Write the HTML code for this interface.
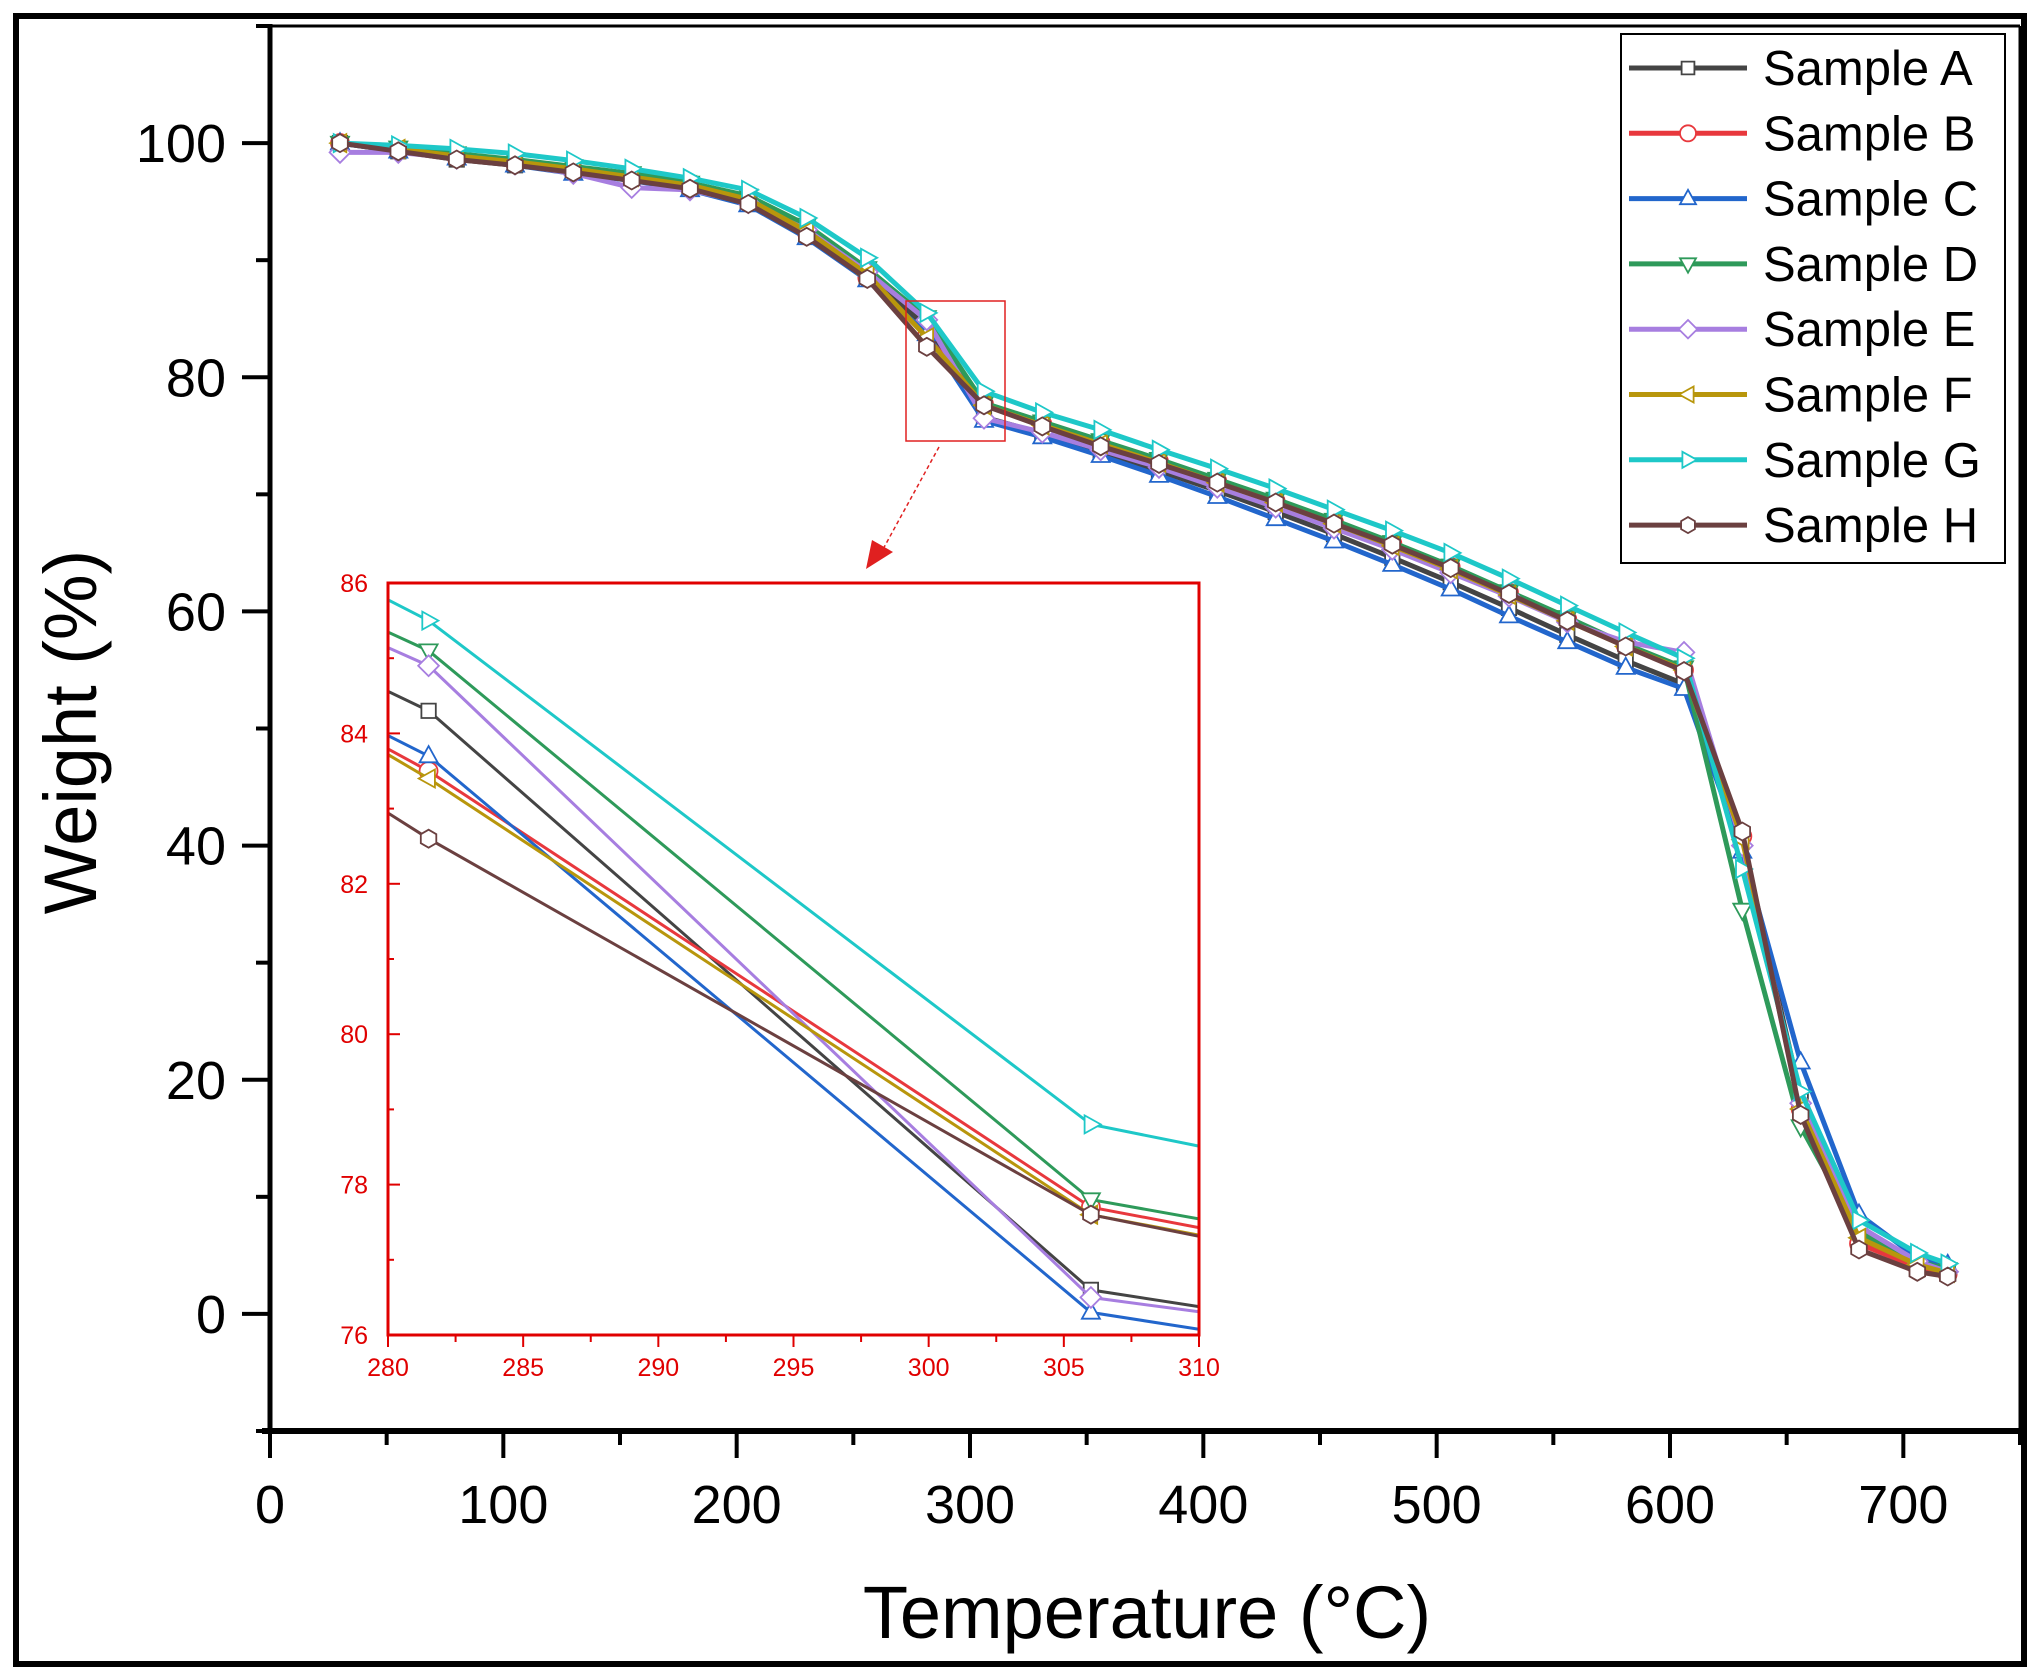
<!DOCTYPE html>
<html><head><meta charset="utf-8"><style>
html,body{margin:0;padding:0;background:#fff;overflow:hidden;width:2040px;height:1676px}
svg{display:block}
text{font-family:"Liberation Sans",Arial,sans-serif}
</style></head><body>
<svg id="chart" width="2040" height="1676" viewBox="0 0 2040 1676" xmlns="http://www.w3.org/2000/svg">
<defs>
<clipPath id="mainClip"><rect x="270" y="26" width="1750" height="1405"/></clipPath>
<clipPath id="insetClip"><rect x="388" y="583" width="811" height="752"/></clipPath>
</defs>
<rect x="16" y="16" width="2008" height="1648" fill="#fff" stroke="#000" stroke-width="6"/>
<g id="main"></g>
<g id="inset"></g>
<g id="legend"></g>
</svg>
<script>
const temps = [30,55,80,105,130,155,180,205,230,256,281.5,306,331,356,381,406,431,456,481,506,531,556,581,606,631,656,681,706,719];
const sampleA = [100,99.3,98.6,98.1,97.5,96.9,96.2,95,92.3,88.7,84.3,76.6,75.2,73.6,72,70.3,68.5,66.6,64.6,62.5,60.3,58,55.8,53.8,40.5,18.5,6.5,4.2,3.5];
const sampleB = [100,99.4,98.8,98.3,97.7,97,96.3,95.1,92.4,88.5,83.5,77.7,76,74.4,72.8,71.1,69.4,67.6,65.8,63.8,61.6,59.3,57.1,55,40.8,17.5,6.0,4.0,3.4];
const sampleC = [100,99.3,98.7,98.1,97.4,96.8,96,94.7,91.9,88.3,83.7,76.3,74.9,73.3,71.6,69.8,67.9,66,64,61.9,59.6,57.4,55.2,53.4,39.5,21.5,8.5,4.8,4.2];
const sampleD = [100,99.6,99.1,98.6,98,97.4,96.6,95.5,93,89.3,85.1,77.8,76.2,74.6,73,71.3,69.6,67.8,65.9,63.9,61.7,59.5,57.2,55.2,34.5,16,7,4.5,3.8];
const sampleE = [99.2,99.2,98.7,98.2,97.4,96.2,96,94.9,92.6,89,84.9,76.5,75.3,73.8,72.3,70.6,68.9,67.1,65.3,63.3,61.3,59.1,57.4,56.5,40,18,7.5,4.5,3.6];
const sampleF = [100,99.5,98.9,98.4,97.8,97.1,96.4,95.2,92.5,88.8,83.4,77.6,75.9,74.3,72.7,71,69.3,67.5,65.6,63.6,61.4,59.2,57,55,40.5,17.5,6.5,4.2,3.5];
const sampleG = [100,99.8,99.5,99.1,98.5,97.8,97,96,93.6,90.2,85.5,78.8,77,75.5,73.8,72.2,70.5,68.7,66.9,65,62.8,60.5,58.2,56,38,19,8,5.2,4.3];
const sampleH = [100,99.3,98.6,98.1,97.5,96.8,96.1,94.8,92,88.4,82.6,77.6,75.8,74.1,72.6,71,69.3,67.5,65.7,63.7,61.5,59.2,57,54.9,41.2,17,5.5,3.6,3.2];
const seriesNames = ["Sample A","Sample B","Sample C","Sample D","Sample E","Sample F","Sample G","Sample H"];
const xTicks = [0,100,200,300,400,500,600,700];
const yTicks = [0,20,40,60,80,100];
const insetXTicks = [280,285,290,295,300,305,310];
const insetYTicks = [76,78,80,82,84,86];

const allSeries=[sampleA,sampleB,sampleC,sampleD,sampleE,sampleF,sampleG,sampleH];
const colors=["#444444","#e8383d","#2266cc","#2e9a5a","#a77ee0","#b8960c","#1ec8c8","#6b4040"];
const markers=["square","circle","up","down","diamond","left","right","hex"];
const NS="http://www.w3.org/2000/svg";
function mk(tag,attrs,parent){const e=document.createElementNS(NS,tag);for(const k in attrs)e.setAttribute(k,attrs[k]);parent.appendChild(e);return e;}
const X=v=>270+(v-0)*(1750/750);
const Y=v=>1431-(v+10)*(1405/120);
const IX=v=>388+(v-280)*(811/30);
const IY=v=>1335-(v-76)*(752/10);

function markerPath(type,cx,cy,r){
  let pts=[];
  if(type==="square")pts=[[-1,-1],[1,-1],[1,1],[-1,1]].map(p=>[p[0]*r*0.8,p[1]*r*0.8]);
  else if(type==="up")pts=[[0,-1.1],[1,0.7],[-1,0.7]];
  else if(type==="down")pts=[[0,1.1],[1,-0.7],[-1,-0.7]];
  else if(type==="left")pts=[[-1.1,0],[0.7,-1],[0.7,1]];
  else if(type==="right")pts=[[1.1,0],[-0.7,-1],[-0.7,1]];
  else if(type==="diamond")pts=[[0,-1.15],[1.15,0],[0,1.15],[-1.15,0]];
  else if(type==="hex"){for(let i=0;i<6;i++){const a=Math.PI/3*i+Math.PI/6;pts.push([Math.cos(a),Math.sin(a)]);}}
  if(type!=="square")pts=pts.map(p=>[p[0]*r,p[1]*r]);
  return "M"+pts.map(p=>(cx+p[0]).toFixed(1)+","+(cy+p[1]).toFixed(1)).join("L")+"Z";
}
function drawMarker(g,type,cx,cy,r,color,sw){
  if(type==="circle")return mk("circle",{cx:cx,cy:cy,r:r,fill:"#fff",stroke:color,"stroke-width":sw},g);
  return mk("path",{d:markerPath(type,cx,cy,r),fill:"#fff",stroke:color,"stroke-width":sw},g);
}
function interp(s,t){
  for(let j=0;j<temps.length-1;j++){
    if(t>=temps[j]&&t<=temps[j+1]){const f=(t-temps[j])/(temps[j+1]-temps[j]);return s[j]+f*(s[j+1]-s[j]);}
  }
  return s[s.length-1];
}

const main=document.getElementById("main");
const axes=mk("g",{},main);


mk("line",{x1:270,y1:26,x2:2020,y2:26,stroke:"#000","stroke-width":3},axes);
mk("line",{x1:2020,y1:26,x2:2020,y2:1431,stroke:"#000","stroke-width":3},axes);
mk("line",{x1:270,y1:24,x2:270,y2:1434,stroke:"#000","stroke-width":5},axes);
mk("line",{x1:262,y1:1431,x2:2020,y2:1431,stroke:"#000","stroke-width":6},axes);
for(let v=-10;v<=110;v+=10){const y=Y(v);const major=yTicks.includes(v);mk("line",{x1:major?242:256,y1:y,x2:270,y2:y,stroke:"#000","stroke-width":4},axes);}
yTicks.forEach(v=>{const t=mk("text",{x:226,y:Y(v)+19,"font-size":54,"text-anchor":"end"},axes);t.textContent=v;

});
for(let v=0;v<=750;v+=50){const x=X(v);const major=v%100===0;mk("line",{x1:x,y1:1431,x2:x,y2:major?1458:1445,stroke:"#000","stroke-width":4},axes);}
xTicks.forEach(v=>{const t=mk("text",{x:X(v),y:1523,"font-size":54,"text-anchor":"middle"},axes);t.textContent=v;

});
const xt=mk("text",{x:1147,y:1638,"font-size":74,"text-anchor":"middle"},main);xt.textContent="Temperature (°C)";


const yt=mk("text",{x:0,y:0,"font-size":74,"text-anchor":"middle",transform:"translate(96,732) rotate(-90)"},main);yt.textContent="Weight (%)";



const plot=mk("g",{"clip-path":"url(#mainClip)"},main);
allSeries.forEach((s,i)=>{
  const g=mk("g",{},plot);
  
  
  mk("polyline",{points:s.map((v,j)=>X(temps[j]).toFixed(1)+","+Y(v).toFixed(1)).join(" "),fill:"none",stroke:colors[i],"stroke-width":5,"stroke-linejoin":"round"},g);
  s.forEach((v,j)=>drawMarker(g,markers[i],X(temps[j]),Y(v),9,colors[i],1.8));
});
const zb=mk("rect",{x:906,y:301,width:99,height:140,fill:"none",stroke:"#e02020","stroke-width":1.5},main);


const ar=mk("line",{x1:939,y1:447,x2:882,y2:551,stroke:"#e02020","stroke-width":1.5,"stroke-dasharray":"4,3"},main);


mk("path",{d:"M866,569 L872,540 L893,552 Z",fill:"#e02020"},main);

const inset=document.getElementById("inset");


mk("rect",{x:388,y:583,width:811,height:752,fill:"#fff"},inset);
const ip=mk("g",{"clip-path":"url(#insetClip)"},inset);
allSeries.forEach((s,i)=>{
  const g=mk("g",{},ip);
  
  
  const pts=[[280,interp(s,280)]];
  temps.forEach((t,j)=>{if(t>280&&t<310)pts.push([t,s[j]]);});
  pts.push([310,interp(s,310)]);
  mk("polyline",{points:pts.map(p=>IX(p[0]).toFixed(1)+","+IY(p[1]).toFixed(1)).join(" "),fill:"none",stroke:colors[i],"stroke-width":3},g);
  temps.forEach((t,j)=>{if(t>280&&t<310)drawMarker(g,markers[i],IX(t),IY(s[j]),9,colors[i],1.8);});
});
mk("rect",{x:388,y:583,width:811,height:752,fill:"none",stroke:"#e00000","stroke-width":3},inset);
for(let v=76;v<=86;v+=1){const y=IY(v);const major=v%2===0;mk("line",{x1:388,y1:y,x2:major?400:394,y2:y,stroke:"#e00000","stroke-width":2},inset);}
insetYTicks.forEach(v=>{const t=mk("text",{x:368,y:IY(v)+9,"font-size":25,fill:"#e00000","text-anchor":"end"},inset);t.textContent=v;

});
for(let v=280;v<=310;v+=2.5){const x=IX(v);const major=v%5===0;mk("line",{x1:x,y1:1335,x2:x,y2:major?1347:1342,stroke:"#e00000","stroke-width":2},inset);}
insetXTicks.forEach(v=>{const t=mk("text",{x:IX(v),y:1376,"font-size":25,fill:"#e00000","text-anchor":"middle"},inset);t.textContent=v;

});

const lg=document.getElementById("legend");


mk("rect",{x:1621,y:34,width:384,height:529,fill:"#fff",stroke:"#000","stroke-width":2},lg);
seriesNames.forEach((n,i)=>{
  const y=68+i*65.3;
  const e=mk("g",{},lg);
  
  
  mk("line",{x1:1629,y1:y,x2:1747,y2:y,stroke:colors[i],"stroke-width":5},e);
  drawMarker(e,markers[i],1688,y,8,colors[i],1.8);
  const t=mk("text",{x:1763,y:y+17,"font-size":49},e);t.textContent=n;
});
</script>
</body></html>
